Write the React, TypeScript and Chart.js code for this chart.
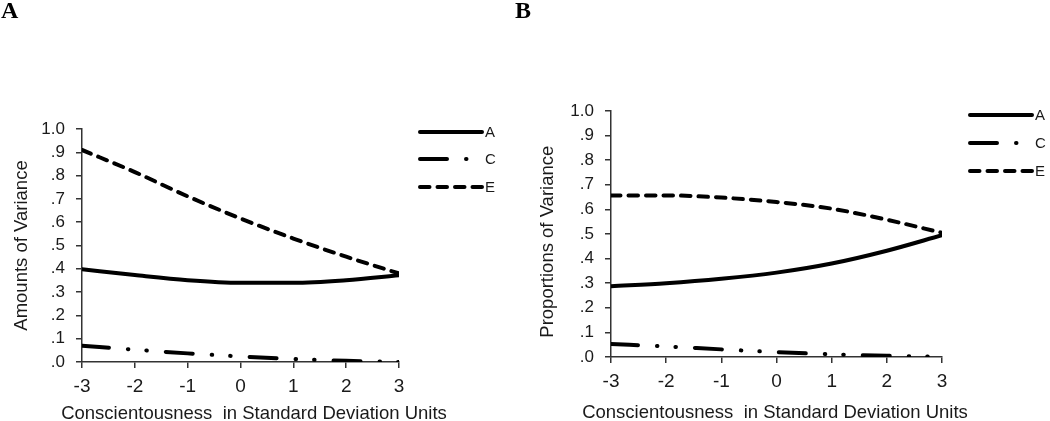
import React, { useEffect, useRef } from "react";
import { Chart, registerables } from "chart.js";

Chart.register(...registerables);

const xValues = [-3, -2, -1, 0, 1, 2, 3];
const xTickLabels = ["-3", "-2", "-1", "0", "1", "2", "3"];
const yTickLabels = [".0", ".1", ".2", ".3", ".4", ".5", ".6", ".7", ".8", ".9", "1.0"];
const seriesNames = ["A", "C", "E"];
const xTitleText = "Conscientousness  in Standard Deviation Units";

// Panel A: amounts of variance
const amountsA = [0.398, 0.373, 0.351, 0.34, 0.34, 0.351, 0.372];
const amountsC = [0.07, 0.053, 0.037, 0.024, 0.013, 0.005, 0.0];
const amountsE = [0.91, 0.815, 0.711, 0.616, 0.53, 0.452, 0.38];

// Panel B: proportions of variance
const propsA = [0.288, 0.3, 0.318, 0.343, 0.38, 0.432, 0.495];
const propsC = [0.053, 0.043, 0.031, 0.02, 0.011, 0.005, 0.001];
const propsE = [0.657, 0.657, 0.648, 0.63, 0.603, 0.558, 0.505];

const FONT = "'Liberation Sans', Arial, sans-serif";
const TEXT = "#1a1a1a";
const AXIS = "#333333";
const LINE_W = 4;
const dashes: number[][] = [[], [27, 19, 0.5, 18, 0.5, 19], [9.5, 8]];

type PanelCfg = {
  left: number;
  width: number;
  yTitle: string;
  values: number[][];
  area: { left: number; top: number; right: number; bottom: number };
  yTitlePad: number;
  legend: { x1: number; x2: number; rows: number[] };
  xTitle: { x: number; y: number };
};

const legendPlugin = {
  id: "lineLegend",
  afterDraw(chart: any, _args: any, opts: any) {
    const ctx = chart.ctx;
    ctx.save();
    seriesNames.forEach((name, i) => {
      const y = opts.rows[i];
      ctx.beginPath();
      ctx.setLineDash(dashes[i]);
      ctx.lineCap = "round";
      ctx.lineWidth = LINE_W;
      ctx.strokeStyle = "#000";
      ctx.moveTo(opts.x1, y);
      ctx.lineTo(opts.x2, y);
      ctx.stroke();
      ctx.setLineDash([]);
      ctx.fillStyle = TEXT;
      ctx.font = `15px ${FONT}`;
      ctx.textBaseline = "middle";
      ctx.textAlign = "left";
      ctx.fillText(name, opts.x2 + 3, y + 1);
    });
    ctx.restore();
  },
};

const xTitlePlugin = {
  id: "xTitle",
  afterDraw(chart: any, _args: any, opts: any) {
    const ctx = chart.ctx;
    ctx.save();
    ctx.fillStyle = TEXT;
    ctx.font = `18.5px ${FONT}`;
    ctx.textAlign = "center";
    ctx.textBaseline = "middle";
    ctx.fillText(opts.text, opts.x, opts.y);
    ctx.restore();
  },
};

function Panel({ cfg }: { cfg: PanelCfg }) {
  const ref = useRef<HTMLCanvasElement>(null);
  useEffect(() => {
    if (!ref.current) return;
    const H = 421;
    const chart = new Chart(ref.current, {
      type: "line",
      data: {
        datasets: seriesNames.map((name, i) => ({
          label: name,
          data: xValues.map((x, j) => ({ x, y: cfg.values[i][j] })),
          borderColor: "#000",
          backgroundColor: "#000",
          borderWidth: LINE_W,
          borderDash: dashes[i],
          borderCapStyle: "round",
          pointRadius: 0,
          cubicInterpolationMode: "monotone",
          fill: false,
        })),
      },
      options: {
        responsive: false,
        animation: false,
        devicePixelRatio: 1,
        layout: {
          padding: {
            left: 0,
            top: cfg.area.top,
            right: cfg.width - cfg.area.right,
            bottom: 0,
          },
        },
        plugins: {
          legend: { display: false },
          tooltip: { enabled: false },
          lineLegend: cfg.legend,
          xTitle: { text: xTitleText, x: cfg.xTitle.x, y: cfg.xTitle.y },
        } as any,
        scales: {
          x: {
            type: "linear",
            min: -3,
            max: 3,
            afterFit: (s: any) => {
              s.height = H - cfg.area.bottom;
            },
            afterBuildTicks: (s: any) => {
              s.ticks = xValues.map((v) => ({ value: v }));
            },
            ticks: {
              stepSize: 1,
              autoSkip: false,
              color: TEXT,
              font: { family: FONT, size: 19 },
              padding: 7,
              maxRotation: 0,
              callback: (_v: any, i: number) => xTickLabels[i],
            },
            grid: {
              display: true,
              drawOnChartArea: false,
              drawTicks: true,
              tickLength: 6,
              color: AXIS,
              lineWidth: 1.5,
            },
            border: { display: true, color: AXIS, width: 1.5 },
            title: { display: false },
          },
          y: {
            type: "linear",
            min: 0,
            max: 1,
            afterFit: (s: any) => {
              s.width = cfg.area.left;
            },
            afterBuildTicks: (s: any) => {
              s.ticks = yTickLabels.map((_, i) => ({ value: i / 10 }));
            },
            ticks: {
              stepSize: 0.1,
              autoSkip: false,
              color: TEXT,
              font: { family: FONT, size: 17 },
              padding: 11,
              callback: (_v: any, i: number) => yTickLabels[i],
            },
            grid: {
              display: true,
              drawOnChartArea: false,
              drawTicks: true,
              tickLength: 6,
              color: AXIS,
              lineWidth: 1.5,
            },
            border: { display: true, color: AXIS, width: 1.5 },
            title: {
              display: true,
              text: cfg.yTitle,
              color: TEXT,
              font: { family: FONT, size: 18.5, lineHeight: 1 },
              padding: { top: cfg.yTitlePad, bottom: 0 },
            },
          },
        },
      },
      plugins: [legendPlugin, xTitlePlugin],
    } as any);
    return () => chart.destroy();
  }, [cfg]);
  return (
    <canvas
      ref={ref}
      width={cfg.width}
      height={421}
      style={{ position: "absolute", left: cfg.left, top: 0, width: cfg.width, height: 421 }}
    />
  );
}

const panelA: PanelCfg = {
  left: 0,
  width: 520,
  yTitle: "Amounts of Variance",
  values: [amountsA, amountsC, amountsE],
  area: { left: 82, top: 129, right: 399, bottom: 362 },
  yTitlePad: 13,
  legend: { x1: 420, x2: 482, rows: [132, 159, 187] },
  xTitle: { x: 254, y: 414 },
};

const panelB: PanelCfg = {
  left: 520,
  width: 530,
  yTitle: "Proportions of Variance   ",
  values: [propsA, propsC, propsE],
  area: { left: 91, top: 111, right: 422, bottom: 357 },
  yTitlePad: 19,
  legend: { x1: 450, x2: 512, rows: [115, 143, 171] },
  xTitle: { x: 255, y: 413 },
};

const labelStyle: React.CSSProperties = {
  position: "absolute",
  top: -3,
  fontFamily: "'Liberation Serif', 'Times New Roman', serif",
  fontWeight: "bold",
  fontSize: 24,
  color: "#000",
  lineHeight: "normal",
};

export default function App() {
  return (
    <div style={{ position: "absolute", left: 0, top: 0, width: 1050, height: 421, background: "#fff", overflow: "hidden" }}>
      <Panel cfg={panelA} />
      <Panel cfg={panelB} />
      <div style={{ ...labelStyle, left: 1 }}>A</div>
      <div style={{ ...labelStyle, left: 515 }}>B</div>
    </div>
  );
}
